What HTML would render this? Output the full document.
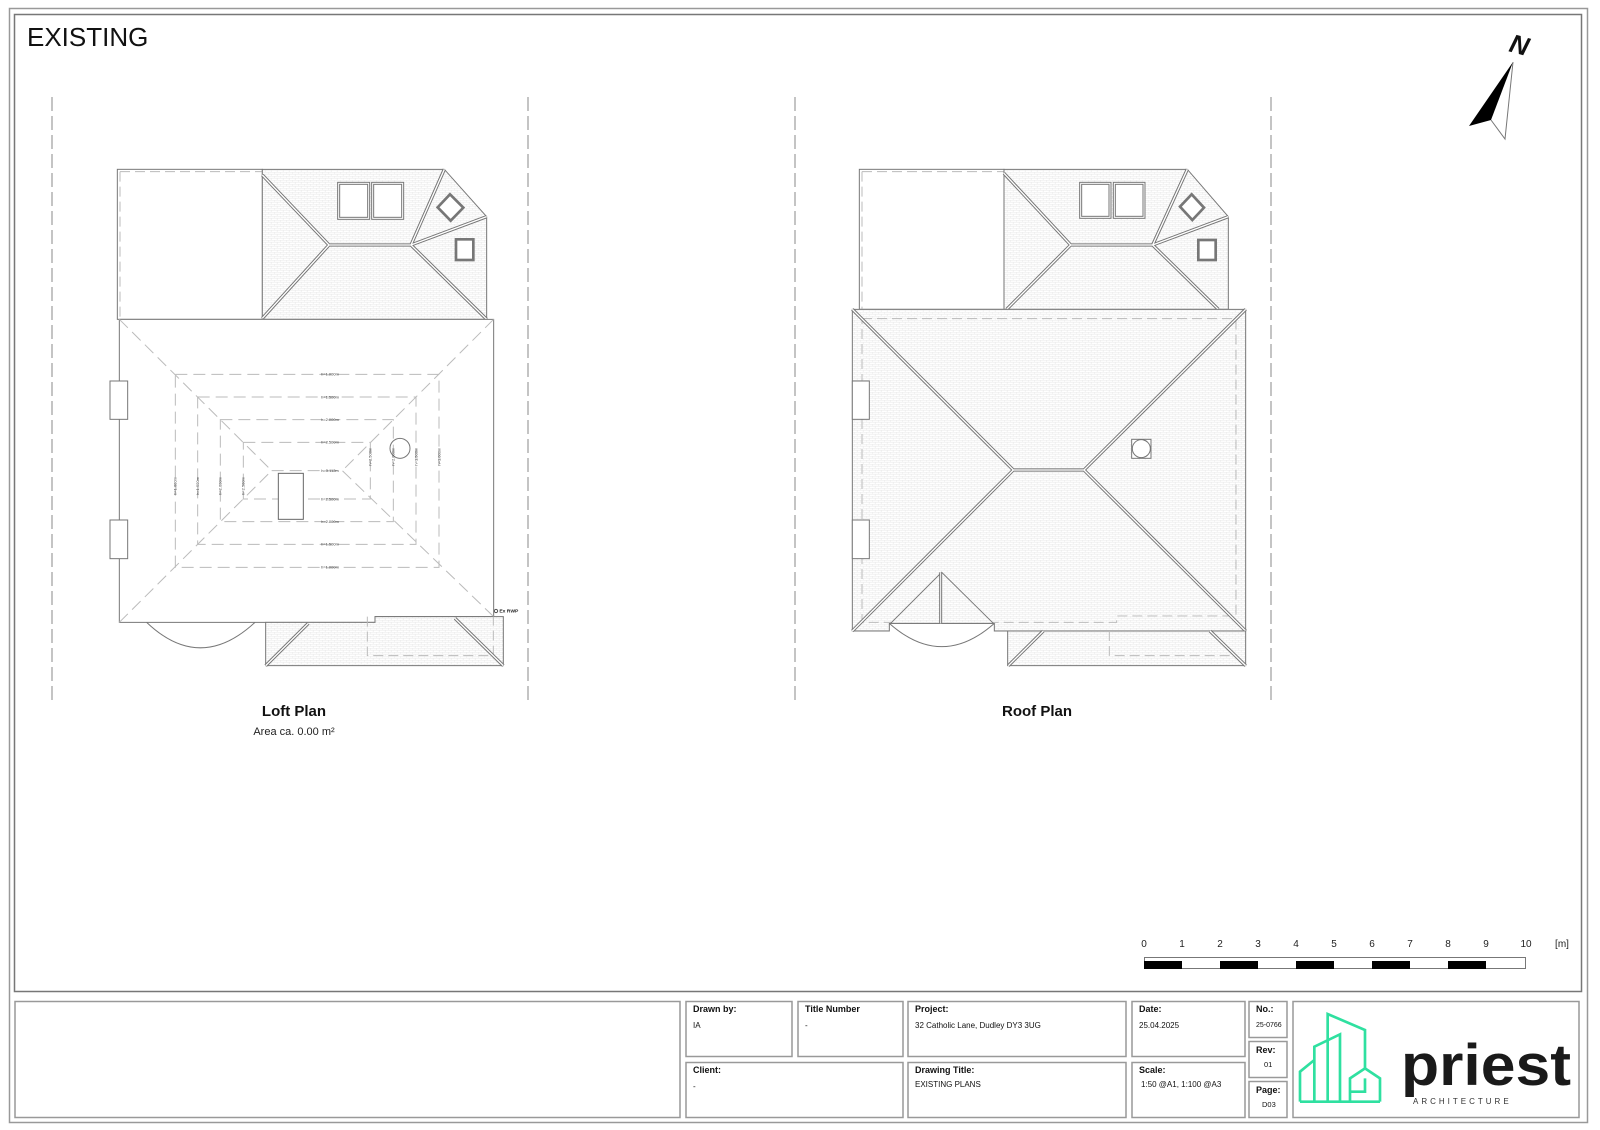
<!DOCTYPE html>
<html><head><meta charset="utf-8"><style>
html,body{margin:0;padding:0;background:#fff;}
svg{display:block;}
text{font-family:"Liberation Sans",Arial,sans-serif;}
</style></head><body>
<svg width="1600" height="1130" viewBox="0 0 1600 1130" xmlns="http://www.w3.org/2000/svg">
<defs>
<pattern id="tiles" width="18" height="12" patternUnits="userSpaceOnUse">
<rect width="18" height="12" fill="#fff"/>
<path d="M0 0.5H18M0.5 0V6M9.5 6V12M0 6.5H18" stroke="#e6e6e6" stroke-width="1.5" fill="none"/>
</pattern>
</defs>
<!-- frame -->
<rect x="9.5" y="8.5" width="1578" height="1114" fill="none" stroke="#999" stroke-width="1.5"/>
<rect x="14.5" y="14.5" width="1567" height="977" fill="none" stroke="#777" stroke-width="1.5"/>
<text x="27" y="46" font-size="26" fill="#111">EXISTING</text>

<!-- boundary dashed lines -->
<g stroke="#888" stroke-width="1" stroke-dasharray="14,5">
<line x1="52" y1="97" x2="52" y2="705"/><line x1="528" y1="97" x2="528" y2="705"/>
<line x1="795" y1="97" x2="795" y2="705"/><line x1="1271" y1="97" x2="1271" y2="705"/>
</g>

<!-- LOFT PLAN -->
<g transform="translate(100 160) scale(0.33333)" fill="none" stroke="#777" stroke-width="3">
<rect x="52" y="28" width="435" height="450" fill="#fff"/>
<path d="M60 35H487M60 35V478" stroke="#bbb" stroke-dasharray="30,15"/>
<polygon points="487,28 1033,28 1160,170 1160,478 487,478" fill="url(#tiles)"/>
<g stroke="#777" stroke-width="10"><path d="M487 45L687 255H933L1160 478M487 475L687 255M933 255L1033 28M933 255L1160 170"/></g>
<g stroke="#fff" stroke-width="4"><path d="M487 45L687 255H933L1160 478M487 475L687 255M933 255L1033 28M933 255L1160 170"/></g>
<rect x="716" y="70" width="90" height="105" fill="#fff" stroke-width="9"/><rect x="716" y="70" width="90" height="105" stroke="#fff" stroke-width="3"/>
<rect x="818" y="70" width="90" height="105" fill="#fff" stroke-width="9"/><rect x="818" y="70" width="90" height="105" stroke="#fff" stroke-width="3"/>
<polygon points="1050,103 1090,143 1052,182 1013,142" fill="#fff" stroke-width="8"/>
<rect x="1068" y="238" width="52" height="62" fill="#fff" stroke-width="8"/>
<!-- main loft -->
<polygon points="58,478 1181,478 1181,1370 825,1370 825,1387 58,1387" fill="#fff"/>
<rect x="30" y="663" width="53" height="115" fill="#fff"/><rect x="30" y="1080" width="53" height="116" fill="#fff"/>
<path d="M140 1387Q300 1540 465 1387"/>
<g stroke="#bbb" stroke-dasharray="36,18">
<path d="M58 478L515 932M1181 478L727 932M58 1387L515 932M1181 1370L727 932M515 932H727"/>
<rect x="226" y="643" width="791" height="579"/><rect x="293" y="711" width="655" height="442"/>
<rect x="361" y="779" width="519" height="306"/><rect x="430" y="847" width="381" height="170"/>
</g>
<rect x="535" y="940" width="75" height="138" fill="#fff" stroke="#666"/>
<circle cx="900" cy="865" r="30"/>
<g fill="#444" stroke="none" font-size="12" text-anchor="middle">
<text x="690" y="647">h=1.000m</text><text x="690" y="715">h=1.500m</text><text x="690" y="783">h=2.000m</text><text x="690" y="851">h=2.500m</text><text x="690" y="936">h=3.112m</text><text x="690" y="1021">h=2.500m</text><text x="690" y="1089">h=2.000m</text><text x="690" y="1157">h=1.500m</text><text x="690" y="1226">h=1.000m</text>
<text transform="translate(230 978) rotate(-90)">h=1.000m</text><text transform="translate(297 978) rotate(-90)">h=1.500m</text><text transform="translate(365 978) rotate(-90)">h=2.000m</text><text transform="translate(434 978) rotate(-90)">h=2.500m</text>
<text transform="translate(815 890) rotate(-90)">h=2.500m</text><text transform="translate(884 890) rotate(-90)">h=2.000m</text><text transform="translate(952 890) rotate(-90)">h=1.500m</text><text transform="translate(1021 890) rotate(-90)">h=1.000m</text>
<text x="1198" y="1358" text-anchor="start" font-weight="bold" font-size="15" fill="#222">Ex RWP</text>
</g>
<circle cx="1188" cy="1353" r="5" stroke="#555"/>
<!-- lower roof -->
<polygon points="497,1387 825,1387 825,1370 1210,1370 1210,1517 497,1517" fill="url(#tiles)"/>
<path d="M802 1370V1487H1180V1370" stroke="#bbb" stroke-dasharray="30,15"/>
<g stroke-width="10"><path d="M497 1517L625 1390M1210 1517L1065 1375"/></g>
<g stroke="#fff" stroke-width="4"><path d="M497 1517L625 1390M1210 1517L1065 1375"/></g>
</g>
<text x="294" y="716" font-size="15" font-weight="bold" text-anchor="middle" fill="#111">Loft Plan</text>
<text x="294" y="735" font-size="11" text-anchor="middle" fill="#222">Area ca. 0.00 m²</text>

<!-- ROOF PLAN -->
<g transform="translate(830 160) scale(0.33333)" fill="none" stroke="#777" stroke-width="3">
<rect x="88" y="28" width="434" height="420" fill="#fff"/>
<path d="M96 35H522M96 35V448" stroke="#bbb" stroke-dasharray="30,15"/>
<polygon points="522,28 1072,28 1195,170 1195,448 522,448" fill="url(#tiles)"/>
<g stroke-width="10"><path d="M522 40L722 255H968L1165 448M530 448L722 255M968 255L1072 28M968 255L1195 170"/></g>
<g stroke="#fff" stroke-width="4"><path d="M522 40L722 255H968L1165 448M530 448L722 255M968 255L1072 28M968 255L1195 170"/></g>
<rect x="752" y="70" width="88" height="102" fill="#fff" stroke-width="9"/><rect x="752" y="70" width="88" height="102" stroke="#fff" stroke-width="3"/>
<rect x="853" y="70" width="89" height="102" fill="#fff" stroke-width="9"/><rect x="853" y="70" width="89" height="102" stroke="#fff" stroke-width="3"/>
<polygon points="1085,103 1122,143 1087,180 1050,140" fill="#fff" stroke-width="8"/>
<rect x="1105" y="240" width="52" height="60" fill="#fff" stroke-width="8"/>
<!-- main roof -->
<polygon points="67,448 1247,448 1247,1413 493,1413 493,1390 178,1390 178,1413 67,1413" fill="url(#tiles)"/>
<path d="M96 476H1218V1368H860V1387H96Z" stroke="#bbb" stroke-dasharray="30,15"/>
<rect x="67" y="663" width="51" height="115" fill="#fff"/><rect x="67" y="1080" width="51" height="116" fill="#fff"/>
<g stroke-width="10"><path d="M67 448L550 930H762L1247 448M67 1413L550 930M762 930L1247 1413"/></g>
<g stroke="#fff" stroke-width="4"><path d="M67 448L550 930H762L1247 448M67 1413L550 930M762 930L1247 1413"/></g>
<rect x="905" y="838" width="58" height="57" fill="#fff"/><circle cx="934" cy="866" r="27"/>
<polygon points="182,1390 335,1237 490,1390" fill="url(#tiles)"/>
<path d="M332 1237V1390" stroke-width="9"/><path d="M332 1237V1390" stroke="#fff" stroke-width="3"/>
<path d="M178 1390Q335 1530 493 1390"/>
<polygon points="533,1413 1247,1413 1247,1517 533,1517" fill="url(#tiles)"/>
<path d="M838 1413V1487H1215" stroke="#bbb" stroke-dasharray="30,15"/>
<g stroke-width="10"><path d="M535 1517L640 1413M1247 1517L1140 1413"/></g>
<g stroke="#fff" stroke-width="4"><path d="M535 1517L640 1413M1247 1517L1140 1413"/></g>
</g>
<text x="1037" y="716" font-size="15" font-weight="bold" text-anchor="middle" fill="#111">Roof Plan</text>

<!-- North arrow -->
<text x="1510" y="54" font-size="26" font-weight="bold" font-style="italic" fill="#111" transform="rotate(15 1520 45)">N</text>
<polygon points="1513,62 1469,126 1491,120" fill="#000"/>
<polyline points="1513,62 1505,139 1491,120" fill="none" stroke="#777" stroke-width="1"/>

<!-- scale bar -->
<g font-size="10" fill="#222" text-anchor="middle">
<text x="1144" y="947">0</text><text x="1182" y="947">1</text><text x="1220" y="947">2</text><text x="1258" y="947">3</text><text x="1296" y="947">4</text><text x="1334" y="947">5</text><text x="1372" y="947">6</text><text x="1410" y="947">7</text><text x="1448" y="947">8</text><text x="1486" y="947">9</text><text x="1526" y="947">10</text><text x="1562" y="947">[m]</text>
</g>
<rect x="1144.5" y="957.5" width="381" height="11" fill="#fff" stroke="#777" stroke-width="1"/>
<g fill="#000"><rect x="1144" y="961" width="38" height="8"/><rect x="1220" y="961" width="38" height="8"/><rect x="1296" y="961" width="38" height="8"/><rect x="1372" y="961" width="38" height="8"/><rect x="1448" y="961" width="38" height="8"/></g>

<!-- title block -->
<g fill="#fff" stroke="#999" stroke-width="1.5">
<rect x="15" y="1001.5" width="665" height="116"/>
<rect x="686" y="1001.5" width="106" height="55"/><rect x="798" y="1001.5" width="105" height="55"/>
<rect x="908" y="1001.5" width="218" height="55"/><rect x="1132" y="1001.5" width="113" height="55"/>
<rect x="686" y="1062.5" width="217" height="55"/><rect x="908" y="1062.5" width="218" height="55"/>
<rect x="1132" y="1062.5" width="113" height="55"/>
<rect x="1249" y="1001.5" width="38" height="36"/><rect x="1249" y="1041.5" width="38" height="36"/><rect x="1249" y="1081.5" width="38" height="36"/>
<rect x="1293" y="1001.5" width="286" height="116"/>
</g>
<g fill="#111" font-size="9">
<text x="693" y="1012" font-weight="bold">Drawn by:</text><text x="693" y="1028" font-size="8">IA</text>
<text x="805" y="1012" font-weight="bold">Title Number</text><text x="805" y="1028" font-size="8">-</text>
<text x="915" y="1012" font-weight="bold">Project:</text><text x="915" y="1028" font-size="8">32 Catholic Lane, Dudley DY3 3UG</text>
<text x="1139" y="1012" font-weight="bold">Date:</text><text x="1139" y="1028" font-size="8">25.04.2025</text>
<text x="693" y="1073" font-weight="bold">Client:</text><text x="693" y="1089" font-size="8">-</text>
<text x="915" y="1073" font-weight="bold">Drawing Title:</text><text x="915" y="1087" font-size="8">EXISTING PLANS</text>
<text x="1139" y="1073" font-weight="bold">Scale:</text><text x="1141" y="1087" font-size="8">1:50 @A1, 1:100 @A3</text>
<text x="1256" y="1012" font-weight="bold">No.:</text><text x="1256" y="1027" font-size="7">25-0766</text>
<text x="1256" y="1053" font-weight="bold">Rev:</text><text x="1264" y="1067" font-size="7.5">01</text>
<text x="1256" y="1093" font-weight="bold">Page:</text><text x="1262" y="1107" font-size="7.5">D03</text>
</g>
<!-- logo -->
<g transform="translate(1100 990) scale(0.33333)" fill="none" stroke="#2fe0a0" stroke-width="8" stroke-linejoin="miter">
<path d="M683 335V72L795 120V240"/>
<path d="M720 335V133L643 170V335"/>
<path d="M600 335V245L643 210"/>
<path d="M750 335V265L795 235L840 265V335"/>
<path d="M600 335H840"/>
<path d="M750 305H795V265"/>
</g>
<text x="1401" y="1085" font-size="58" font-weight="bold" fill="#1a1a1a" textLength="170" lengthAdjust="spacingAndGlyphs">priest</text>
<text x="1413" y="1104" font-size="8" fill="#333" letter-spacing="3">ARCHITECTURE</text>
</svg>
</body></html>
